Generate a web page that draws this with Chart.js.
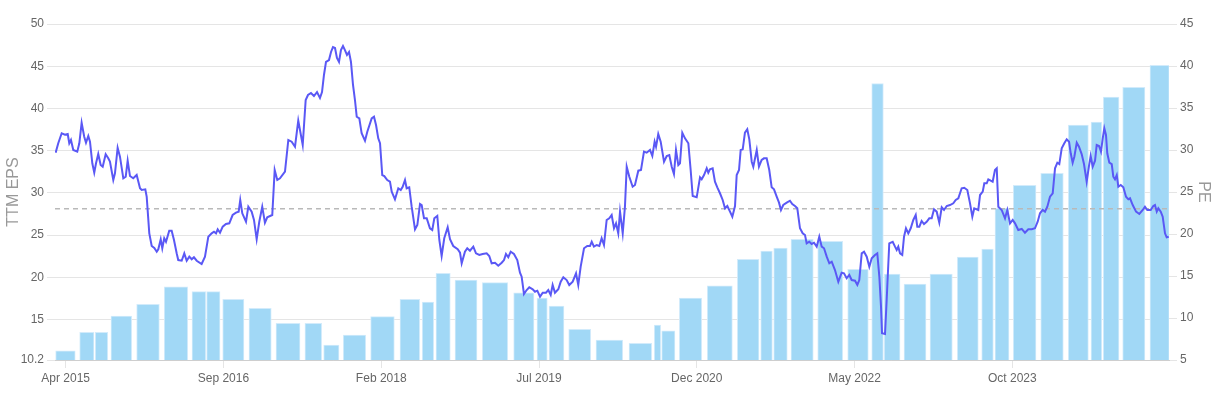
<!DOCTYPE html>
<html><head><meta charset="utf-8">
<script src="https://cdn.jsdelivr.net/npm/chart.js@4.4.1/dist/chart.umd.min.js"></script>
<style>html,body{margin:0;padding:0;background:#fff;}#wrap{position:relative;width:1214px;height:398px;}</style>
</head><body><div id="wrap"><canvas id="c" width="1214" height="398"></canvas></div>
<script>
// x values are months counted from Jan 2015 (0 = Jan 2015)
const xRange = [1.85, 121.88];
const xTickMonths = [3, 20, 37, 54, 71, 88, 105];
const xTickLabels = ['Apr 2015', 'Sep 2016', 'Feb 2018', 'Jul 2019', 'Dec 2020', 'May 2022', 'Oct 2023'];
const epsTicks = [10.2, 15, 20, 25, 30, 35, 40, 45, 50];
const peTicks = [5, 10, 15, 20, 25, 30, 35, 40, 45];

// TTM EPS periods (start / end month) and values
const barStart = [1.92,4.51,6.19,7.88,10.65,13.62,16.61,18.19,19.92,22.75,25.66,28.78,30.80,32.91,35.86,39.02,41.42,42.90,44.95,47.89,51.27,53.78,55.08,57.20,60.14,63.70,66.42,67.22,69.12,72.13,75.37,77.89,79.29,81.15,84.03,87.26,89.85,91.20,93.33,96.13,99.07,101.70,103.13,105.10,108.06,111.03,113.48,114.80,116.89,119.83];
const barEnd = [4.03,6.05,7.53,10.11,13.09,16.15,18.09,19.63,22.21,25.15,28.25,30.58,32.45,35.33,38.41,41.14,42.65,44.44,47.32,50.63,53.46,54.89,56.69,59.57,63.02,66.14,67.11,68.65,71.53,74.83,77.70,79.14,80.75,83.55,86.72,89.48,91.10,92.90,95.70,98.53,101.33,102.95,104.64,107.55,110.49,113.19,114.63,116.49,119.29,121.91];
const epsValues = [11.30,13.48,13.48,15.41,16.80,18.88,18.29,18.29,17.39,16.32,14.55,14.55,11.98,13.16,15.33,17.39,17.07,20.47,19.68,19.36,18.17,17.54,16.60,13.84,12.57,12.18,14.35,13.67,17.54,19.00,22.13,23.11,23.47,24.50,24.26,20.94,42.95,20.39,19.20,20.39,22.40,23.35,28.17,30.89,32.31,38.04,38.39,41.35,42.50,45.11];

// PE series
const peMonths = [1.92,2.20,2.57,2.92,3.22,3.39,3.57,3.82,4.25,4.47,4.72,5.00,5.19,5.44,5.62,5.87,6.08,6.27,6.51,6.77,6.99,7.31,7.59,7.77,8.13,8.31,8.60,8.85,9.21,9.47,9.68,9.93,10.28,10.65,11.01,11.19,11.58,11.73,12.01,12.27,12.55,12.81,12.98,13.24,13.41,13.62,13.81,14.16,14.42,14.67,14.96,15.13,15.50,15.78,16.04,16.32,16.58,16.82,17.12,17.65,18.01,18.37,18.73,18.98,19.20,19.38,19.63,19.92,20.27,20.63,20.99,21.35,21.64,21.81,22.03,22.43,22.68,23.04,23.29,23.58,23.86,24.18,24.47,24.72,25.26,25.52,25.80,26.09,26.63,26.99,27.35,27.71,28.06,28.54,28.86,29.11,29.43,29.75,30.08,30.40,30.62,30.83,31.05,31.37,31.59,31.80,32.02,32.23,32.45,32.66,32.88,33.09,33.31,33.53,33.74,33.96,34.17,34.36,34.64,34.89,35.25,35.50,35.97,36.22,36.44,36.68,36.87,37.11,37.33,37.65,37.94,38.13,38.48,38.84,39.10,39.31,39.56,39.74,40.02,40.28,40.64,40.89,41.18,41.36,41.61,41.90,42.25,42.50,42.72,43.04,43.26,43.51,43.79,44.16,44.41,44.76,45.24,45.49,45.67,46.02,46.27,46.56,46.92,47.21,47.57,47.93,48.36,48.64,48.90,49.26,49.61,49.98,50.23,50.44,50.69,50.95,51.30,51.66,51.95,52.13,52.38,52.67,52.95,53.32,53.57,53.82,54.11,54.40,54.75,55.00,55.26,55.47,55.72,56.08,56.34,56.62,56.98,57.26,57.63,57.99,58.23,58.49,58.85,59.20,59.49,59.68,59.92,60.22,60.50,60.75,61.00,61.29,61.57,61.83,62.08,62.30,62.54,62.73,63.02,63.26,63.45,63.73,64.09,64.34,64.70,64.99,65.31,65.60,65.96,66.21,66.46,66.61,66.85,67.11,67.47,67.76,68.04,68.30,68.54,68.76,69.01,69.19,69.44,69.73,70.09,70.34,70.56,70.99,71.35,71.53,71.78,72.07,72.24,72.42,72.71,72.96,73.21,73.50,73.79,74.04,74.29,74.58,74.83,75.12,75.30,75.55,75.73,75.95,76.19,76.44,76.66,76.92,77.09,77.46,77.70,77.99,78.24,78.53,78.81,79.07,79.32,79.61,79.86,80.07,80.32,80.69,81.04,81.29,81.58,81.83,82.12,82.41,82.66,82.84,83.12,83.38,83.63,83.92,84.20,84.46,84.71,85.00,85.28,85.54,85.89,86.25,86.61,86.86,87.15,87.43,87.69,88.05,88.30,88.51,88.77,89.02,89.31,89.59,89.85,90.20,90.45,90.67,90.85,90.96,91.28,91.46,91.74,92.11,92.36,92.54,92.71,92.90,93.14,93.33,93.54,93.79,94.05,94.33,94.59,94.76,94.98,95.23,95.48,95.77,96.05,96.31,96.56,96.85,97.13,97.39,97.64,97.93,98.28,98.64,98.90,99.18,99.54,99.82,100.15,100.44,100.69,100.90,101.16,101.33,101.52,101.81,101.98,102.24,102.41,102.67,102.88,103.13,103.32,103.49,103.85,104.21,104.46,104.75,105.04,105.29,105.64,106.01,106.36,106.72,107.09,107.44,107.73,107.98,108.27,108.52,108.77,109.06,109.35,109.60,109.85,110.06,110.32,110.60,110.86,111.11,111.29,111.50,111.68,111.94,112.18,112.47,112.72,113.01,113.26,113.44,113.66,113.91,114.09,114.34,114.55,114.74,114.91,115.09,115.23,115.45,115.71,115.88,116.06,116.25,116.42,116.68,116.96,117.25,117.50,117.68,117.97,118.33,118.68,119.05,119.29,119.54,119.91,120.19,120.37,120.56,120.73,120.99,121.20,121.45,121.63,121.85];
const peValues = [29.68,30.80,31.99,31.82,31.90,30.80,31.19,30.00,29.80,30.80,33.25,31.58,30.87,31.67,30.99,28.42,27.30,28.42,29.52,28.21,28.01,29.49,29.01,28.61,26.43,27.23,30.27,29.20,26.63,26.82,28.73,26.90,26.63,27.02,25.44,25.24,25.32,24.44,20.08,18.57,18.33,17.89,18.18,19.37,18.30,19.49,19.08,20.39,20.39,19.29,17.70,16.90,16.82,17.70,16.82,17.30,16.99,17.23,16.82,16.43,17.30,19.68,20.08,20.27,20.08,20.56,20.15,20.87,21.19,21.27,22.26,22.54,22.66,24.05,22.46,21.46,23.25,22.66,21.67,19.37,21.46,23.25,21.35,21.99,22.26,27.62,26.43,26.63,27.42,31.19,30.99,30.39,33.49,30.60,35.95,36.55,36.79,36.43,36.90,36.19,36.90,38.93,40.48,40.71,41.67,42.26,42.14,40.95,40.48,41.90,42.38,41.90,41.31,41.67,40.48,37.74,35.95,33.96,33.77,31.99,31.11,32.18,33.77,33.96,32.98,31.39,30.80,27.02,26.90,26.43,26.23,25.04,24.13,25.44,25.24,25.63,26.43,25.44,25.56,23.25,20.56,21.07,23.57,23.45,21.87,21.87,20.68,20.48,21.87,22.14,19.29,17.38,19.49,20.80,19.37,18.57,18.18,17.77,16.51,17.89,18.30,18.01,18.49,17.70,17.50,17.62,17.70,17.38,16.51,16.58,16.23,16.58,16.90,17.62,17.23,17.89,17.62,16.90,15.39,14.92,12.86,13.33,13.66,13.42,13.13,13.25,12.54,13.01,13.01,13.33,12.74,13.93,13.01,13.42,14.32,14.85,14.52,13.93,14.32,15.32,13.93,16.11,18.30,18.57,18.57,19.08,18.49,18.69,18.57,19.49,18.69,21.67,21.87,22.26,20.68,21.27,20.08,22.66,20.08,23.25,28.01,26.82,25.63,25.83,27.54,27.62,29.80,29.68,30.00,29.29,30.99,30.39,31.90,30.99,28.61,29.29,29.40,28.01,27.14,30.00,28.21,28.42,32.06,31.39,30.80,27.62,24.52,24.37,26.75,26.51,27.02,27.82,27.30,27.70,27.82,26.23,25.56,24.85,24.05,23.06,23.33,22.66,22.06,23.33,27.02,27.62,30.00,30.08,32.06,32.46,31.27,28.61,28.01,30.00,28.01,28.81,29.01,29.01,27.62,25.56,25.32,24.44,23.73,22.86,23.45,23.73,23.96,23.57,23.33,23.06,20.68,20.08,19.88,18.89,19.08,18.81,18.96,18.49,19.68,18.49,18.30,17.30,16.51,16.70,15.71,14.32,15.39,15.32,14.73,15.12,14.52,14.44,13.93,14.52,17.70,17.89,17.30,16.11,17.11,17.50,17.70,14.92,11.35,8.18,8.10,12.14,18.89,19.08,18.49,18.10,18.49,17.70,17.50,19.68,20.68,20.08,20.68,21.67,22.26,20.87,20.87,21.55,21.19,21.46,21.87,21.87,22.94,22.66,21.35,23.18,22.86,23.33,23.45,23.65,24.05,24.25,25.44,25.51,25.24,23.65,22.06,23.06,22.94,22.86,24.64,25.04,26.04,26.04,26.51,26.35,26.23,27.62,27.82,23.25,22.86,21.87,22.86,21.27,21.67,21.27,20.48,20.60,20.15,20.56,20.56,20.68,21.46,22.46,22.86,22.66,23.25,24.44,24.85,27.82,28.49,28.33,30.20,30.80,31.27,30.99,29.61,28.49,29.20,30.87,30.39,29.52,28.33,26.23,28.10,29.29,28.01,28.73,30.60,30.48,29.80,31.39,32.58,31.79,29.61,28.49,28.33,26.82,26.51,27.02,25.63,25.83,25.56,24.44,24.13,24.25,23.45,22.66,22.38,22.86,23.25,22.86,22.86,23.33,23.45,22.66,23.06,22.66,22.06,20.08,19.61,19.68];
const peAverage = 23.0;

const barData = [];
for (let i = 0; i < epsValues.length; i++) {
  barData.push({x: barStart[i], y: null});
  barData.push({x: barEnd[i], y: epsValues[i]});
  barData.push({x: barEnd[i], y: null});
}
const peData = peMonths.map((m, i) => ({x: m, y: peValues[i]}));
const avgData = [{x: xRange[0], y: peAverage}, {x: xRange[1], y: peAverage}];

Chart.defaults.font.family = "Arial, 'Liberation Sans', Helvetica, sans-serif";
Chart.defaults.font.size = 12;
Chart.defaults.color = '#666';

const gridColor = 'rgba(0,0,0,0.1)';
new Chart(document.getElementById('c'), {
  type: 'bar',
  data: {
    datasets: [
      {type: 'line', label: 'PE', data: peData, yAxisID: 'yPE', borderColor: 'rgb(90,88,245)', borderWidth: 2, pointRadius: 0, tension: 0, order: 1},
      {type: 'line', label: 'Avg PE', data: avgData, yAxisID: 'yPE', borderColor: 'rgba(185,185,185,1)', borderWidth: 1.5, borderDash: [5, 4], pointRadius: 0, order: 2},
      {type: 'bar', label: 'TTM EPS', data: barData, yAxisID: 'yEPS', backgroundColor: 'rgb(161,216,246)', borderColor: 'rgba(210,235,251,1)', borderWidth: 1, barThickness: 'flex', categoryPercentage: 2, barPercentage: 1, order: 3}
    ]
  },
  options: {
    responsive: false, animation: false,
    layout: {padding: {top: 24, left: 0, right: 0, bottom: 0}},
    plugins: {legend: {display: false}, tooltip: {enabled: false}},
    scales: {
      x: {
        type: 'linear', min: xRange[0], max: xRange[1], offset: false,
        grid: {drawOnChartArea: false, drawTicks: true, tickLength: 8, color: gridColor, offset: false},
        border: {display: true, color: gridColor},
        afterBuildTicks: s => { s.ticks = xTickMonths.map(v => ({value: v})); },
        afterFit: s => { s.height = 38; },
        ticks: {autoSkip: false, maxRotation: 0, padding: 3, color: '#666', callback: (v, i) => xTickLabels[i]}
      },
      yEPS: {
        type: 'linear', position: 'left', min: 10.2, max: 50,
        grid: {color: gridColor, tickLength: 8},
        border: {display: false},
        afterBuildTicks: s => { s.ticks = epsTicks.map(v => ({value: v})); },
        afterFit: s => { s.width = 55; },
        title: {display: true, text: 'TTM EPS', color: '#999', font: {size: 16}},
        ticks: {color: '#666', padding: 3, callback: v => String(v)}
      },
      yPE: {
        type: 'linear', position: 'right', min: 5, max: 45,
        grid: {drawOnChartArea: false, color: gridColor, tickLength: 8},
        border: {display: false},
        afterBuildTicks: s => { s.ticks = peTicks.map(v => ({value: v})); },
        afterFit: s => { s.width = 45; },
        title: {display: true, text: 'PE', color: '#999', font: {size: 16}, padding: {top: 1, bottom: 4}},
        ticks: {color: '#666', padding: 3, callback: v => String(v)}
      }
    }
  }
});
</script></body></html>
